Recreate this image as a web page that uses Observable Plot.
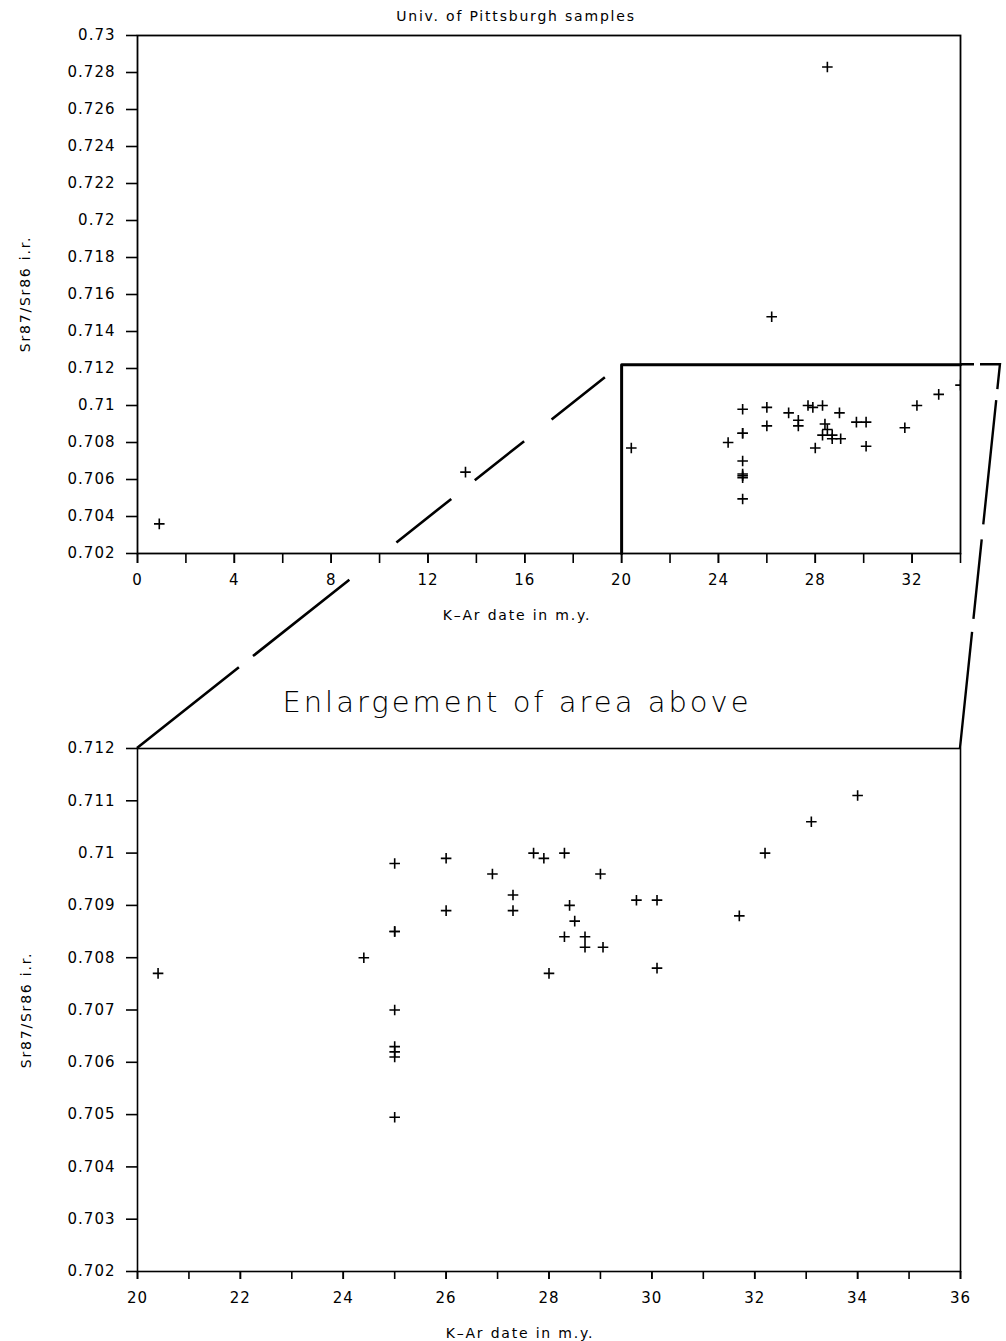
<!DOCTYPE html>
<html><head><meta charset="utf-8">
<script src="https://cdn.jsdelivr.net/npm/d3@7"></script>
<script src="https://cdn.jsdelivr.net/npm/@observablehq/plot@0.6"></script>
<style>
body{margin:0;background:#fff;}
#wrap{position:relative;width:1006px;height:1341px;font-family:"DejaVu Sans",sans-serif;color:#000;overflow:hidden;}
.lab{position:absolute;white-space:nowrap;transform:translate(-50%,-50%);font-size:14px;letter-spacing:1.8px;}
.rot{transform:translate(-50%,-50%) rotate(-90deg);}
.big{font-size:29px;font-weight:200;letter-spacing:3px;}
svg.plot{position:absolute;left:0;}
</style></head><body><div id="wrap"></div>
<script>
// K-Ar date (m.y.) and Sr87/Sr86 initial ratio of each sample
const ageMy = [0.9, 13.55, 26.2, 28.5, 20.4, 24.4, 25.0, 25.0, 25.0, 25.0, 25.0, 25.0, 25.0, 25.0,
  26.0, 26.0, 26.9, 27.3, 27.3, 27.7, 27.9, 28.3, 29.0, 28.4, 28.5, 28.3, 28.7, 28.7, 29.05,
  28.0, 29.7, 30.1, 30.1, 31.7, 32.2, 33.1, 34.0];
const srRatio = [0.7036, 0.7064, 0.7148, 0.7283, 0.7077, 0.7080, 0.7098, 0.7085, 0.7085, 0.7070,
  0.7063, 0.7062, 0.7061, 0.70495, 0.7099, 0.7089, 0.7096, 0.7092, 0.7089, 0.7100, 0.7099,
  0.7100, 0.7096, 0.7090, 0.7087, 0.7084, 0.7084, 0.7082, 0.7082, 0.7077, 0.7091, 0.7091,
  0.7078, 0.7088, 0.7100, 0.7106, 0.7111];

// axes
const topXDomain = [0, 34];
const topYDomain = [0.702, 0.73];
const topXTicks = [0, 4, 8, 12, 16, 20, 24, 28, 32];
const topXMinor = [0, 2, 4, 6, 8, 10, 12, 14, 16, 18, 20, 22, 24, 26, 28, 30, 32, 34];
const topYTicks = [0.702, 0.704, 0.706, 0.708, 0.71, 0.712, 0.714, 0.716, 0.718, 0.72, 0.722, 0.724, 0.726, 0.728, 0.73];
const botXDomain = [20, 36];
const botYDomain = [0.702, 0.712];
const botXTicks = [20, 22, 24, 26, 28, 30, 32, 34, 36];
const botXMinor = [20, 21, 22, 23, 24, 25, 26, 27, 28, 29, 30, 31, 32, 33, 34, 35, 36];
const botYTicks = [0.702, 0.703, 0.704, 0.705, 0.706, 0.707, 0.708, 0.709, 0.71, 0.711, 0.712];

// enlarged area outline in the upper chart
const zoomBoxAge = [20, 20, 34];
const zoomBoxRatio = [0.702, 0.7122, 0.7122];
const zoomExtendAge = 35.65;

const samples = ageMy.map((a, i) => ({age: a, ratio: srRatio[i]}));
const box = zoomBoxAge.map((a, i) => ({age: a, ratio: zoomBoxRatio[i]}));
const fmt = d => String(+(+d).toFixed(4));

const style = {fontFamily: '"DejaVu Sans", sans-serif', fontSize: "15px", letterSpacing: "1px", color: "#000", background: "transparent", overflow: "visible"};

const TOP_Y = 20, BOT_Y = 728;

const topPlot = Plot.plot({
  width: 1006, height: 573,
  marginLeft: 137, marginRight: 46, marginTop: 15, marginBottom: 40,
  style,
  x: {domain: topXDomain},
  y: {domain: topYDomain},
  marks: [
    Plot.frame({strokeWidth: 1.8}),
    Plot.axisY({ticks: topYTicks, tickSize: 11, tickPadding: 11, tickFormat: fmt, label: null, strokeWidth: 1.6}),
    Plot.axisX({ticks: topXMinor, tickSize: 10, tickFormat: () => "", label: null, strokeWidth: 1.6}),
    Plot.axisX({ticks: topXTicks, tickSize: 10, tickPadding: 11, tickFormat: fmt, label: null, strokeWidth: 1.6}),
    Plot.line(box, {x: "age", y: "ratio", strokeWidth: 3, stroke: "#000"}),
    Plot.dot(samples, {x: "age", y: "ratio", symbol: "plus", r: 3.5, strokeWidth: 1.6, stroke: "#000", clip: true})
  ]
});

const botSamples = samples.filter(d => d.age >= 20 && d.ratio <= 0.712);
const botPlot = Plot.plot({
  width: 1006, height: 583,
  marginLeft: 137, marginRight: 46, marginTop: 20, marginBottom: 40,
  style,
  x: {domain: botXDomain},
  y: {domain: botYDomain},
  marks: [
    Plot.frame({strokeWidth: 1.6}),
    Plot.axisY({ticks: botYTicks, tickSize: 11, tickPadding: 11, tickFormat: fmt, label: null, strokeWidth: 1.6}),
    Plot.axisX({ticks: botXMinor, tickSize: 8, tickFormat: () => "", label: null, strokeWidth: 1.6}),
    Plot.axisX({ticks: botXTicks, tickSize: 8, tickPadding: 13, tickFormat: fmt, label: null, strokeWidth: 1.6}),
    Plot.dot(botSamples, {x: "age", y: "ratio", symbol: "plus", r: 3.5, strokeWidth: 1.6, stroke: "#000", clip: true})
  ]
});

const wrap = document.getElementById("wrap");
topPlot.classList.add("plot"); topPlot.style.top = TOP_Y + "px";
botPlot.classList.add("plot"); botPlot.style.top = BOT_Y + "px";
wrap.appendChild(topPlot);
wrap.appendChild(botPlot);

function label(text, x, y, cls) {
  const d = document.createElement("div");
  d.className = "lab " + (cls || "");
  d.textContent = text;
  d.style.left = x + "px"; d.style.top = y + "px";
  wrap.appendChild(d);
}
label("Univ. of Pittsburgh samples", 516, 16);
label("K\u2013Ar date in m.y.", 517, 615);
label("Sr87/Sr86 i.r.", 25, 294, "rot");
label("Enlargement of area above", 517, 702, "big");
label("Sr87/Sr86 i.r.", 26, 1010, "rot");
label("K\u2013Ar date in m.y.", 520, 1333);

// connector lines between the outlined area and the enlargement
const tx = topPlot.scale("x"), ty = topPlot.scale("y");
const bx = botPlot.scale("x"), by = botPlot.scale("y");
const P = (s, v, off) => s.apply(v) + off;
const ov = d3.select(wrap).append("svg")
  .attr("width", 1006).attr("height", 1341)
  .style("position", "absolute").style("left", 0).style("top", 0);
const leftPath = [[P(bx, 20, 0), P(by, 0.712, BOT_Y)], [P(tx, 20, 0), P(ty, 0.7122, TOP_Y)]];
const rightPath = [[P(tx, 34, 0), P(ty, 0.7122, TOP_Y)], [P(tx, zoomExtendAge, 0), P(ty, 0.7122, TOP_Y)], [P(bx, 36, 0), P(by, 0.712, BOT_Y)]];
ov.append("path").attr("d", d3.line()(leftPath)).attr("fill", "none").attr("stroke", "#000")
  .attr("stroke-width", 2.6).attr("stroke-dasharray", "130 18 123 60 70 30 63 35 68 30");
ov.append("path").attr("d", d3.line()(rightPath)).attr("fill", "none").attr("stroke", "#000")
  .attr("stroke-width", 2.4).attr("stroke-dasharray", "14 6 45 11 125 15 80 13 140");
</script>
</body></html>
